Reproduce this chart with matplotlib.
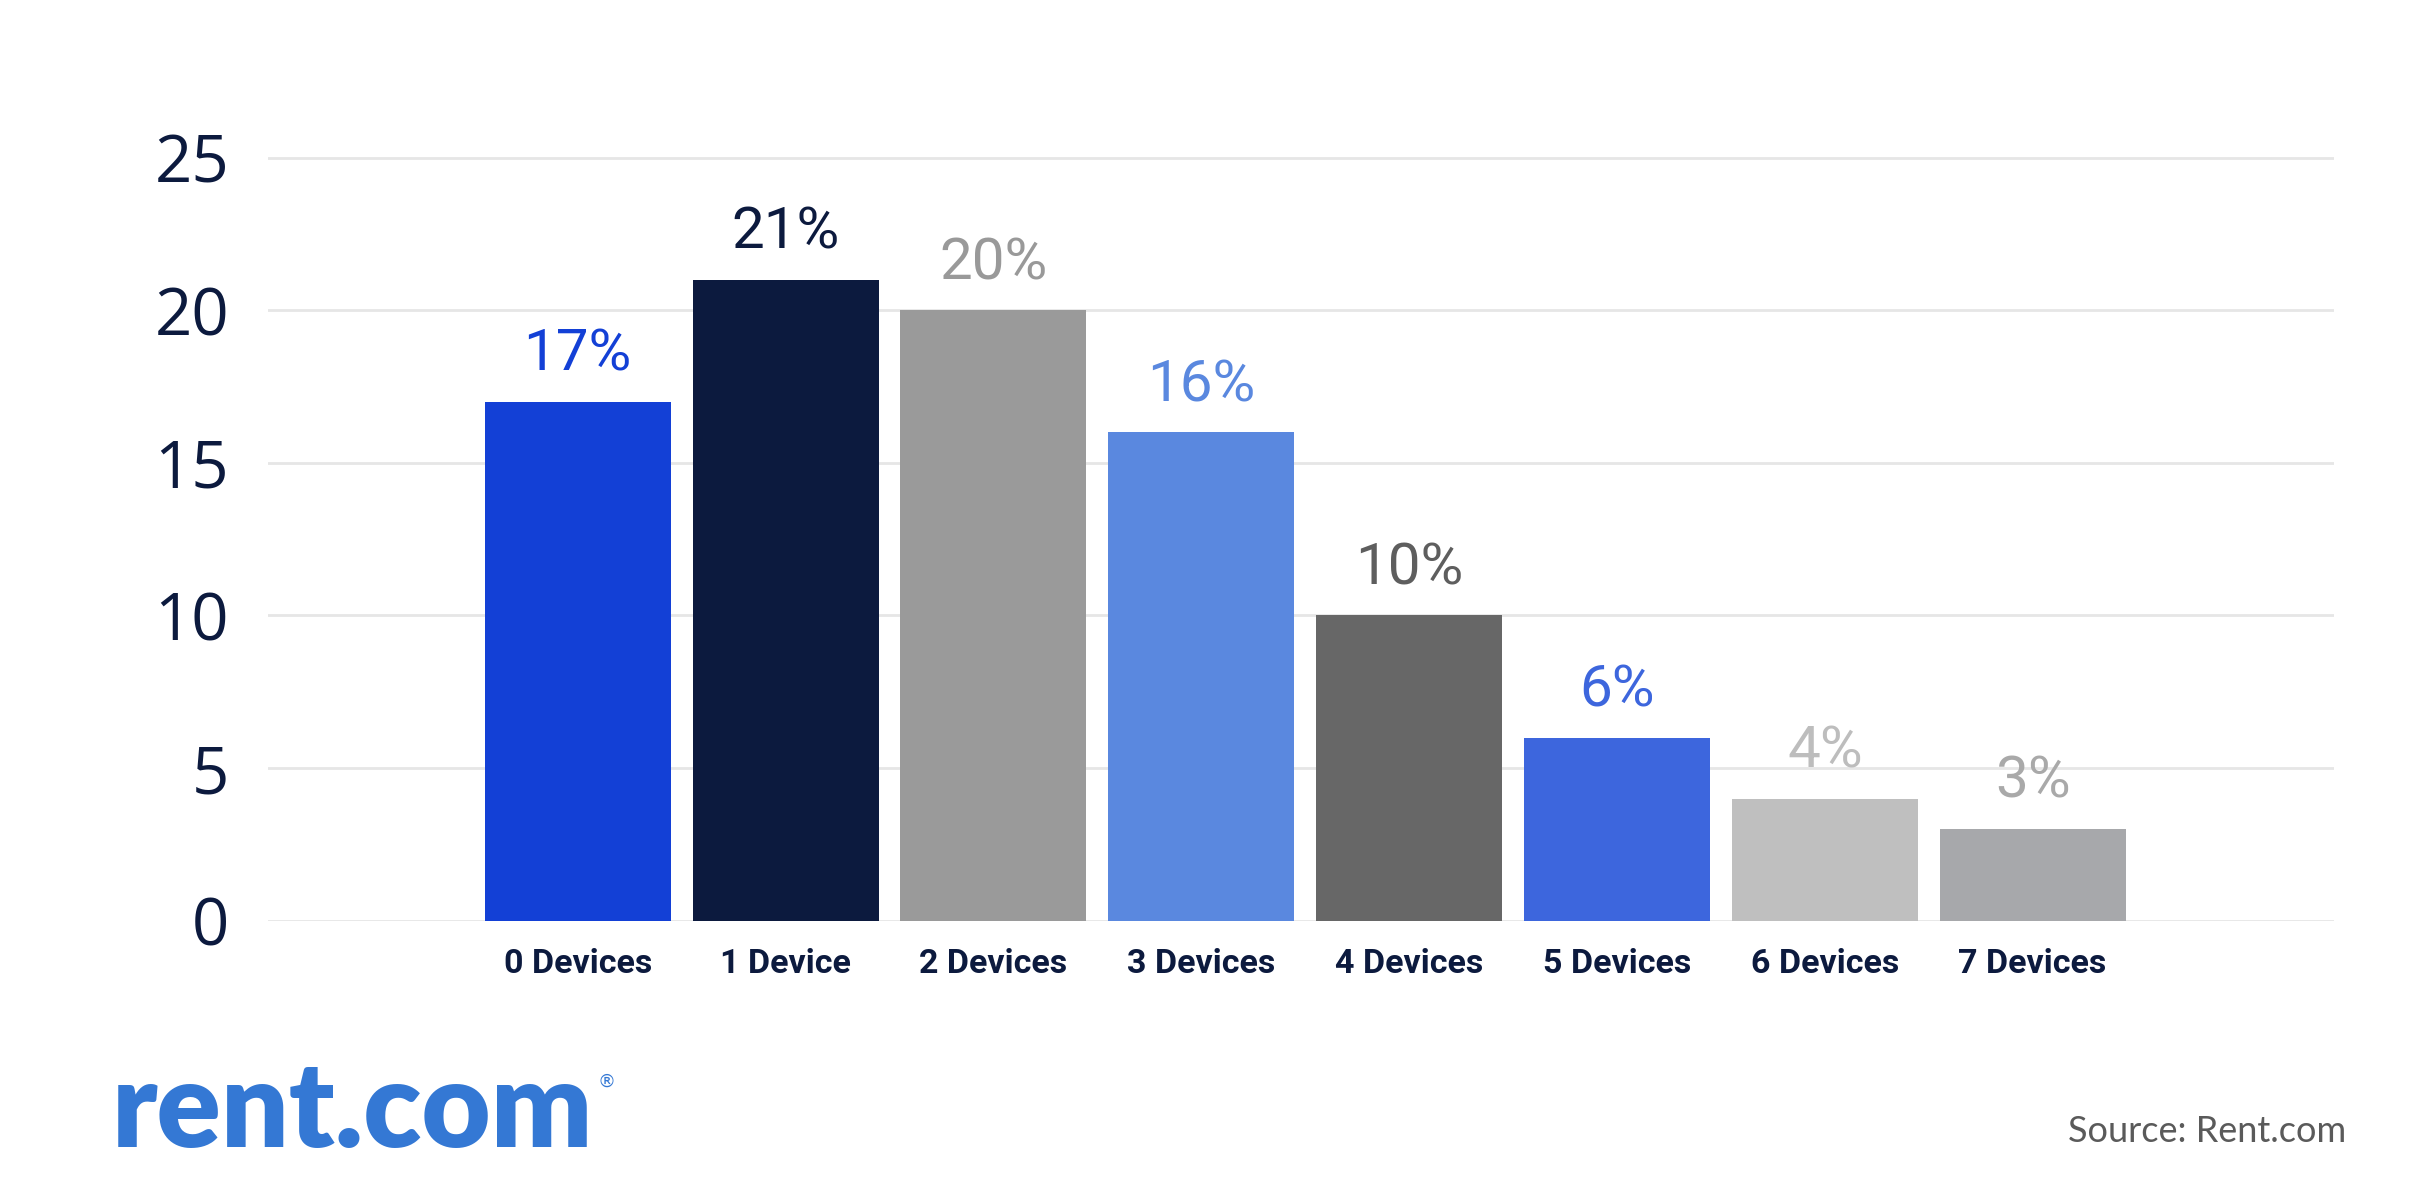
import numpy as np
import matplotlib
matplotlib.use("Agg")
from matplotlib import pyplot as plt

# data
categories = ["0 Devices", "1 Device", "2 Devices", "3 Devices",
              "4 Devices", "5 Devices", "6 Devices", "7 Devices"]
shares = [17, 21, 20, 16, 10, 6, 4, 3]
bar_colors = ["#1340D6", "#0C1A3E", "#9A9A9A", "#5A88DF",
              "#676767", "#3D66DD", "#BFBFBF", "#A7A8AB"]
label_colors = ["#1340D6", "#0C1A3E", "#999999", "#5A88DF",
                "#5E5E5E", "#3D66DD", "#BDBDBD", "#A9A9A9"]
yticks = [0, 5, 10, 15, 20, 25]

navy = "#0C1A3E"

fig = plt.figure(figsize=(24.3, 11.8), dpi=100)
ax = fig.add_axes([268/2430, 0.2199, (2334-268)/2430, 0.892 - 0.2199])

x = np.arange(len(categories))
ax.bar(x, shares, width=0.895, color=bar_colors, zorder=3)

# value labels on top of bars
for i, v in enumerate(shares):
    ax.annotate(f"{v}%", (x[i], v), xytext=(0, 14), textcoords="offset points",
                ha="center", va="bottom", fontsize=42, family="Roboto",
                color=label_colors[i], zorder=4)

ax.set_xlim(-1.49, 8.45)
ax.set_ylim(0, 26)
ax.set_yticks(yticks)
ax.set_yticklabels([str(t) for t in yticks])
ax.set_xticks(x)
ax.set_xticklabels(categories)

for t in yticks:
    ax.axhline(t, color="#E6E6E6", lw=2, zorder=1)

for s in ax.spines.values():
    s.set_visible(False)
ax.tick_params(axis="both", length=0)
ax.tick_params(axis="y", pad=28, labelsize=47, labelcolor=navy)
ax.tick_params(axis="x", pad=20, labelsize=24.5, labelcolor=navy)
for lbl in ax.get_yticklabels():
    lbl.set_family("Open Sans")
for lbl in ax.get_xticklabels():
    lbl.set_family("Roboto")
    lbl.set_fontweight("bold")

# logo and source
fig.text(112/2430, 1 - 1147/1180, "rent.com", fontsize=86, family="Lato",
         fontweight="heavy", color="#3478D4", ha="left", va="baseline")
fig.text(598/2430, 1 - 1082/1180, "®", fontsize=13, family="DejaVu Sans",
         color="#3478D4", ha="left", va="center")
fig.text(2346/2430, 1 - 1132/1180, "Source: Rent.com", fontsize=26,
         family="Lato", color="#5A5A5A", ha="right", va="center")

fig.savefig("out.png", dpi=100, facecolor="white")
